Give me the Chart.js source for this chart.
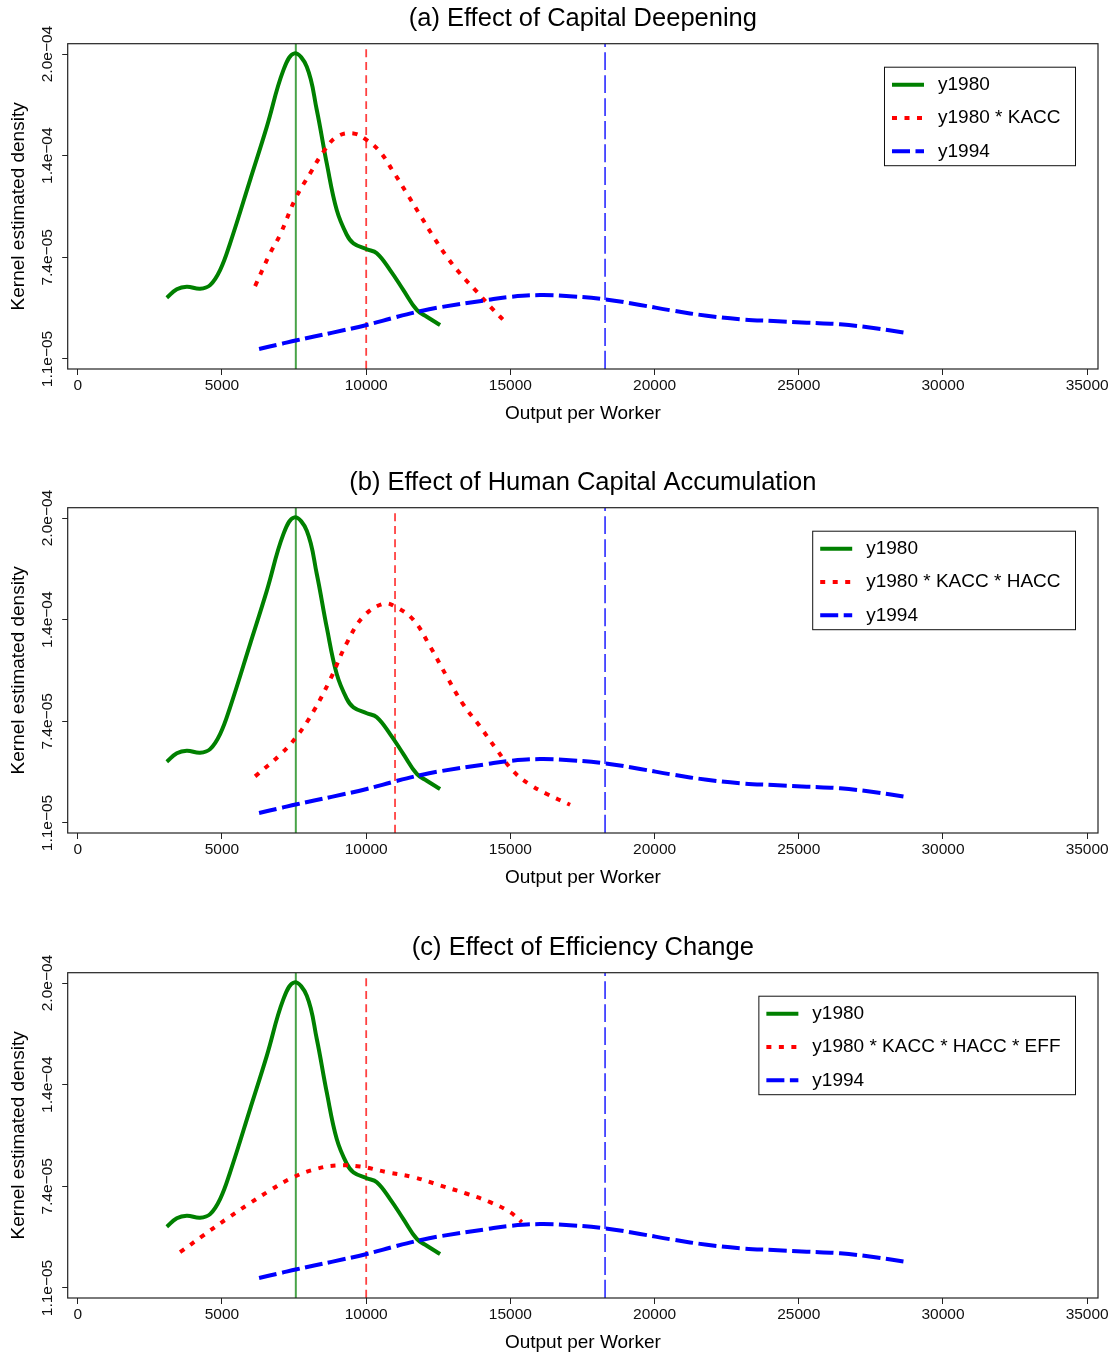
<!DOCTYPE html>
<html><head><meta charset="utf-8">
<script src="https://cdn.jsdelivr.net/npm/chart.js@4"></script>
<style>
html,body{margin:0;padding:0;background:#fff;}
body{width:1116px;height:1354px;position:relative;overflow:hidden;}
.panel{position:absolute;left:0;width:1116px;height:425px;}
canvas{display:block;}
</style></head><body>
<div class="panel" style="top:0px"><canvas id="c0" width="1116" height="425"></canvas></div>
<div class="panel" style="top:464px"><canvas id="c1" width="1116" height="425"></canvas></div>
<div class="panel" style="top:929px"><canvas id="c2" width="1116" height="425"></canvas></div>
<script>
// ---------- data ----------
const panelTitles = ['(a) Effect of Capital Deepening', '(b) Effect of Human Capital Accumulation', '(c) Effect of Efficiency Change'];
const xTitle = 'Output per Worker';
const yTitle = 'Kernel estimated density';

const x1980 = [3086, 3433, 3779, 4241, 4588, 4934, 5281, 5974, 6553, 7129, 7511, 7940, 8287, 8633, 8979, 9326, 9557, 10020, 10367, 10829, 11290, 11754, 12101, 12562];
const y1980 = [4.90e-5, 5.42e-5, 5.58e-5, 5.46e-5, 5.68e-5, 6.61e-5, 8.27e-5, 12.19e-5, 15.49e-5, 19.00e-5, 20.04e-5, 19.21e-5, 16.53e-5, 13.22e-5, 10.33e-5, 8.80e-5, 8.27e-5, 7.90e-5, 7.65e-5, 6.61e-5, 5.37e-5, 4.14e-5, 3.72e-5, 3.21e-5];

const x1994 = [6286, 7014, 7593, 8800, 10020, 11000, 11869, 12607, 14180, 15000, 16030, 17185, 18283, 19497, 20651, 21810, 22964, 24120, 25277, 26432, 27586, 28686];
const y1994 = [1.72e-5, 2.02e-5, 2.26e-5, 2.72e-5, 3.21e-5, 3.68e-5, 4.06e-5, 4.32e-5, 4.75e-5, 4.95e-5, 5.06e-5, 4.98e-5, 4.80e-5, 4.45e-5, 4.09e-5, 3.78e-5, 3.56e-5, 3.45e-5, 3.35e-5, 3.25e-5, 3.02e-5, 2.73e-5];

const xKacc = [6148, 6668, 7014, 7550, 8054, 8516, 8979, 9557, 10020, 10481, 10943, 11407, 11869, 12330, 12794, 13255, 13835, 14410, 14757];
const yKacc = [5.62e-5, 7.65e-5, 8.80e-5, 11.05e-5, 12.60e-5, 13.94e-5, 14.87e-5, 15.08e-5, 14.67e-5, 13.94e-5, 12.70e-5, 11.37e-5, 10.02e-5, 8.68e-5, 7.44e-5, 6.40e-5, 5.27e-5, 4.14e-5, 3.52e-5];

const xHacc = [6148, 7014, 7593, 8169, 8748, 9326, 9903, 10597, 11002, 11637, 12216, 12794, 13370, 13948, 14528, 15104, 15683, 16262, 17070];
const yHacc = [3.99e-5, 5.33e-5, 6.47e-5, 8.01e-5, 9.98e-5, 12.25e-5, 13.90e-5, 14.69e-5, 14.52e-5, 13.69e-5, 12.04e-5, 10.18e-5, 8.43e-5, 7.08e-5, 5.64e-5, 4.30e-5, 3.47e-5, 2.90e-5, 2.23e-5];

const xEff = [3547, 4355, 5166, 5974, 6668, 7476, 8287, 8979, 9788, 10713, 11637, 12562, 13488, 14296, 14989, 15395];
const yEff = [3.32e-5, 4.36e-5, 5.39e-5, 6.36e-5, 7.15e-5, 7.97e-5, 8.49e-5, 8.69e-5, 8.63e-5, 8.28e-5, 7.97e-5, 7.46e-5, 6.94e-5, 6.42e-5, 5.80e-5, 5.18e-5];

const cfLabels = ['y1980 * KACC', 'y1980 * KACC * HACC', 'y1980 * KACC * HACC * EFF'];
const cfX = [xKacc, xHacc, xEff];
const cfY = [yKacc, yHacc, yEff];

// vertical reference lines (means)
const mean1980 = 7560;
const mean1994 = 18283;
const meanCf = [10000, 11000, 10000];

const xTickValues = [0, 5000, 10000, 15000, 20000, 25000, 30000, 35000];
const yTickValues = [1.1e-5, 7.4e-5, 1.37e-4, 2.0e-4];
const yTickLabels = ['1.1e\u221205', '7.4e\u221205', '1.4e\u221204', '2.0e\u221204'];
const xMin = -350, xMax = 35375, yMin = 0.48e-5, yMax = 2.064e-4;

// ---------- drawing ----------
const FONT = "'Liberation Sans', Arial, Helvetica, sans-serif";
Chart.defaults.font.family = FONT;
Chart.defaults.color = '#000';

const pts = (xs, ys) => xs.map((x, i) => ({x: x, y: ys[i]}));
const vline = (x) => [{x: x, y: yMin}, {x: x, y: yMax}];

const framePlugin = {
  id: 'frame',
  afterDatasetsDraw(chart) {
    const ctx = chart.ctx, a = chart.chartArea;
    ctx.save();
    ctx.strokeStyle = '#222';
    ctx.lineWidth = 1.2;
    ctx.setLineDash([]);
    ctx.strokeRect(a.left, a.top, a.right - a.left, a.bottom - a.top);
    ctx.restore();
  }
};

const boxLegendPlugin = {
  id: 'boxLegend',
  afterDraw(chart) {
    const items = chart.data.datasets.filter(d => d.inLegend).sort((p, q) => p.legendPos - q.legendPos);
    const ctx = chart.ctx, a = chart.chartArea;
    ctx.save();
    ctx.font = '19px ' + FONT;
    const maxW = Math.max(...items.map(d => ctx.measureText(d.label).width));
    const w = 53.5 + maxW + 15, h = 98.5;
    const right = a.right - 22.5, top = a.top + 23.5, left = right - w;
    ctx.fillStyle = '#fff';
    ctx.fillRect(left, top, w, h);
    ctx.strokeStyle = '#111';
    ctx.lineWidth = 1;
    ctx.strokeRect(left, top, w, h);
    items.forEach((d, i) => {
      const y = top + 17.5 + i * 33.3;
      ctx.beginPath();
      ctx.setLineDash(d.borderDash || []);
      ctx.strokeStyle = d.borderColor;
      ctx.lineWidth = d.borderWidth;
      ctx.moveTo(left + 7.5, y);
      ctx.lineTo(left + 39.5, y);
      ctx.stroke();
      ctx.setLineDash([]);
      ctx.fillStyle = '#000';
      ctx.textBaseline = 'middle';
      ctx.textAlign = 'left';
      ctx.fillText(d.label, left + 53.5, y);
    });
    ctx.restore();
  }
};

function makePanel(idx) {
  const ctx = document.getElementById('c' + idx);
  const datasets = [
    {label: 'y1980', data: pts(x1980, y1980), borderColor: '#008000', borderWidth: 4,
     order: 3, inLegend: true, legendPos: 0},
    {label: cfLabels[idx], data: pts(cfX[idx], cfY[idx]), borderColor: '#ff0000', borderWidth: 4,
     borderDash: [5, 7.5], order: 2, inLegend: true, legendPos: 1},
    {label: 'y1994', data: pts(x1994, y1994), borderColor: '#0000ff', borderWidth: 4,
     borderDash: [18, 5.5], order: 1, inLegend: true, legendPos: 2},
    {label: 'mean y1980', data: vline(mean1980), borderColor: 'rgba(0,128,0,0.72)', borderWidth: 2,
     order: 10, inLegend: false},
    {label: 'mean cf', data: vline(meanCf[idx]), borderColor: 'rgba(255,0,0,0.75)', borderWidth: 1.8,
     borderDash: [8, 5], order: 11, inLegend: false},
    {label: 'mean y1994', data: vline(mean1994), borderColor: 'rgba(0,0,255,0.75)', borderWidth: 1.8,
     borderDash: [18, 5], order: 12, inLegend: false}
  ];
  datasets.forEach(d => {
    d.pointRadius = 0; d.pointHoverRadius = 0; d.fill = false;
    d.tension = 0.4;
    d.borderCapStyle = 'butt';
    d.borderJoinStyle = 'round';
  });
  return new Chart(ctx, {
    type: 'line',
    data: {datasets: datasets},
    options: {
      responsive: false,
      animation: false,
      events: [],
      layout: {padding: {left: 0, right: 18, top: 0, bottom: 0}},
      plugins: {
        legend: {display: false},
        tooltip: {enabled: false},
        title: {
          display: true, text: panelTitles[idx], fullSize: false,
          color: '#000', font: {size: 25.5, weight: 'normal', family: FONT},
          padding: {top: 3.4, bottom: 9.7}
        }
      },
      scales: {
        x: {
          type: 'linear', min: xMin, max: xMax,
          afterBuildTicks: s => { s.ticks = xTickValues.map(v => ({value: v})); },
          afterFit: s => { s.height = 56; },
          grid: {display: true, drawOnChartArea: false, drawTicks: true, tickLength: 6, color: '#222', tickColor: '#222'},
          border: {display: false},
          ticks: {autoSkip: false, maxRotation: 0, minRotation: 0, padding: 1,
                  font: {size: 15.5}, color: '#111', callback: v => String(v)},
          title: {display: true, text: xTitle, font: {size: 19}, color: '#000', padding: {top: 0, bottom: 0.3}}
        },
        y: {
          type: 'linear', min: yMin, max: yMax,
          afterBuildTicks: s => { s.ticks = yTickValues.map(v => ({value: v})); },
          afterFit: s => { s.width = 67.7; },
          grid: {display: true, drawOnChartArea: false, drawTicks: true, tickLength: 5.5, color: '#222', tickColor: '#222'},
          border: {display: false},
          ticks: {autoSkip: false, minRotation: 90, maxRotation: 90, crossAlign: 'center', padding: -13.5,
                  font: {size: 15.5}, color: '#111',
                  callback: (v, i) => yTickLabels[i]},
          title: {display: true, text: yTitle, font: {size: 19}, color: '#000', padding: {top: 7.1, bottom: 0}}
        }
      }
    },
    plugins: [framePlugin, boxLegendPlugin]
  });
}
[0, 1, 2].forEach(makePanel);
</script>
</body></html>
